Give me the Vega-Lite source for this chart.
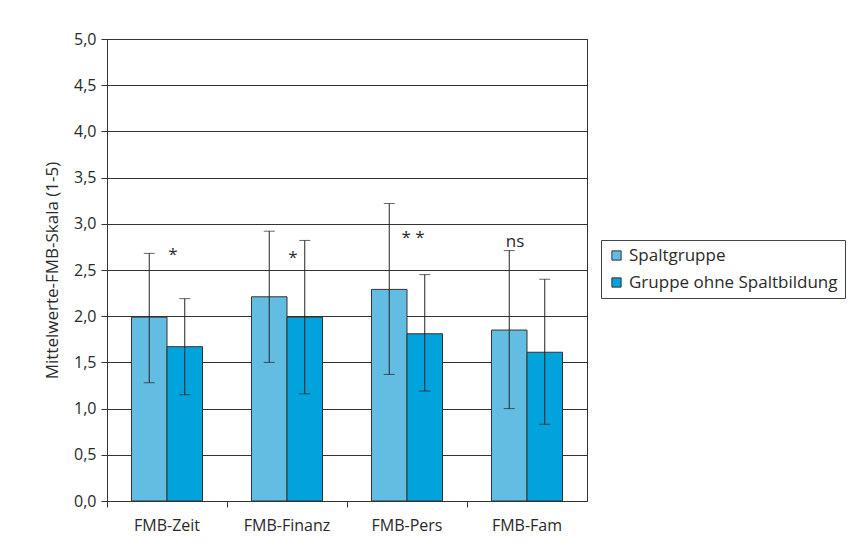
{
  "$schema": "https://vega.github.io/schema/vega-lite/v6.json",
  "autosize": {"type": "none"},
  "width": 480,
  "height": 462,
  "padding": {"left": 107, "top": 39, "right": 269, "bottom": 46},
  "background": "white",
  "config": {
    "font": "Open Sans",
    "view": {"stroke": "#333", "strokeWidth": 1},
    "axis": {"labelFont": "Open Sans", "titleFont": "Open Sans", "labelColor": "#2a2a2a", "titleColor": "#2a2a2a", "domainColor": "#333", "tickColor": "#333"}
  },
  "datasets": {
    "bars": [
      {"scale": "FMB-Zeit", "group": "Spaltgruppe", "mean": 1.99, "low": 1.28, "high": 2.68},
      {"scale": "FMB-Zeit", "group": "Gruppe ohne Spaltbildung", "mean": 1.67, "low": 1.15, "high": 2.19},
      {"scale": "FMB-Finanz", "group": "Spaltgruppe", "mean": 2.21, "low": 1.5, "high": 2.92},
      {"scale": "FMB-Finanz", "group": "Gruppe ohne Spaltbildung", "mean": 1.99, "low": 1.16, "high": 2.82},
      {"scale": "FMB-Pers", "group": "Spaltgruppe", "mean": 2.29, "low": 1.37, "high": 3.22},
      {"scale": "FMB-Pers", "group": "Gruppe ohne Spaltbildung", "mean": 1.81, "low": 1.19, "high": 2.45},
      {"scale": "FMB-Fam", "group": "Spaltgruppe", "mean": 1.85, "low": 1.0, "high": 2.71},
      {"scale": "FMB-Fam", "group": "Gruppe ohne Spaltbildung", "mean": 1.61, "low": 0.83, "high": 2.4}
    ],
    "notes": [
      {"scale": "FMB-Zeit", "label": "*", "pos": 2.66},
      {"scale": "FMB-Finanz", "label": "*", "pos": 2.63},
      {"scale": "FMB-Pers", "label": "* *", "pos": 2.85},
      {"scale": "FMB-Fam", "label": "ns", "pos": 2.8}
    ]
  },
  "layer": [
    {
      "data": {"name": "bars"},
      "mark": {"type": "bar", "stroke": "#333", "strokeWidth": 1},
      "encoding": {
        "x": {
          "field": "scale", "type": "nominal", "sort": ["FMB-Zeit", "FMB-Finanz", "FMB-Pers", "FMB-Fam"],
          "scale": {"paddingInner": 0, "paddingOuter": 0},
          "axis": {"title": null, "labelAngle": 0, "labelFontSize": 16, "labelPadding": 10, "tickSize": 6, "bandPosition": 0, "grid": false, "domainColor": "#333"}
        },
        "xOffset": {
          "field": "group", "type": "nominal", "sort": ["Spaltgruppe", "Gruppe ohne Spaltbildung"],
          "scale": {"paddingInner": 0, "paddingOuter": 0.69}
        },
        "y": {
          "field": "mean", "type": "quantitative",
          "scale": {"domain": [0, 5], "nice": false},
          "axis": {
            "title": "Mittelwerte-FMB-Skala (1-5)", "titleFontSize": 17, "titleFontWeight": "normal", "titlePadding": 12,
            "values": [0, 0.5, 1, 1.5, 2, 2.5, 3, 3.5, 4, 4.5, 5],
            "labelExpr": "replace(format(datum.value, '.1f'), '.', ',')",
            "labelFontSize": 16, "labelPadding": 5, "tickSize": 6,
            "grid": true, "gridColor": "#333", "gridOpacity": 1, "gridWidth": 1
          }
        },
        "color": {
          "field": "group", "type": "nominal", "sort": ["Spaltgruppe", "Gruppe ohne Spaltbildung"],
          "scale": {"domain": ["Spaltgruppe", "Gruppe ohne Spaltbildung"], "range": ["#63bde2", "#00a3dc"]},
          "legend": {
            "title": null, "orient": "none", "legendX": 494, "legendY": 201,
            "symbolType": "square", "symbolSize": 85, "symbolStrokeColor": "#333", "symbolStrokeWidth": 1,
            "labelFontSize": 17, "labelColor": "#2a2a2a", "labelFont": "Open Sans", "labelOffset": 4, "labelLimit": 400,
            "rowPadding": 9, "padding": 7, "strokeColor": "#444", "fillColor": "white"
          }
        }
      }
    },
    {
      "data": {"name": "bars"},
      "mark": {"type": "rule", "color": "#222", "strokeWidth": 1},
      "encoding": {
        "x": {"field": "scale", "type": "nominal", "sort": ["FMB-Zeit", "FMB-Finanz", "FMB-Pers", "FMB-Fam"]},
        "xOffset": {"field": "group", "type": "nominal", "sort": ["Spaltgruppe", "Gruppe ohne Spaltbildung"]},
        "y": {"field": "low", "type": "quantitative"},
        "y2": {"field": "high"}
      }
    },
    {
      "data": {"name": "bars"},
      "mark": {"type": "tick", "color": "#222", "thickness": 1, "size": 11, "orient": "horizontal"},
      "encoding": {
        "x": {"field": "scale", "type": "nominal", "sort": ["FMB-Zeit", "FMB-Finanz", "FMB-Pers", "FMB-Fam"]},
        "xOffset": {"field": "group", "type": "nominal", "sort": ["Spaltgruppe", "Gruppe ohne Spaltbildung"]},
        "y": {"field": "high", "type": "quantitative"}
      }
    },
    {
      "data": {"name": "bars"},
      "mark": {"type": "tick", "color": "#222", "thickness": 1, "size": 11, "orient": "horizontal"},
      "encoding": {
        "x": {"field": "scale", "type": "nominal", "sort": ["FMB-Zeit", "FMB-Finanz", "FMB-Pers", "FMB-Fam"]},
        "xOffset": {"field": "group", "type": "nominal", "sort": ["Spaltgruppe", "Gruppe ohne Spaltbildung"]},
        "y": {"field": "low", "type": "quantitative"}
      }
    },
    {
      "data": {"name": "notes"},
      "transform": [{"filter": "datum.label != 'ns'"}],
      "mark": {"type": "text", "fontSize": 17, "color": "#2a2a2a", "font": "Open Sans", "baseline": "middle", "dx": 6},
      "encoding": {
        "x": {"field": "scale", "type": "nominal", "sort": ["FMB-Zeit", "FMB-Finanz", "FMB-Pers", "FMB-Fam"]},
        "y": {"field": "pos", "type": "quantitative"},
        "text": {"field": "label"}
      }
    },
    {
      "data": {"name": "notes"},
      "transform": [{"filter": "datum.label == 'ns'"}],
      "mark": {"type": "text", "fontSize": 17, "color": "#2a2a2a", "font": "Open Sans", "baseline": "middle", "dx": -12},
      "encoding": {
        "x": {"field": "scale", "type": "nominal", "sort": ["FMB-Zeit", "FMB-Finanz", "FMB-Pers", "FMB-Fam"]},
        "y": {"field": "pos", "type": "quantitative"},
        "text": {"field": "label"}
      }
    }
  ]
}
